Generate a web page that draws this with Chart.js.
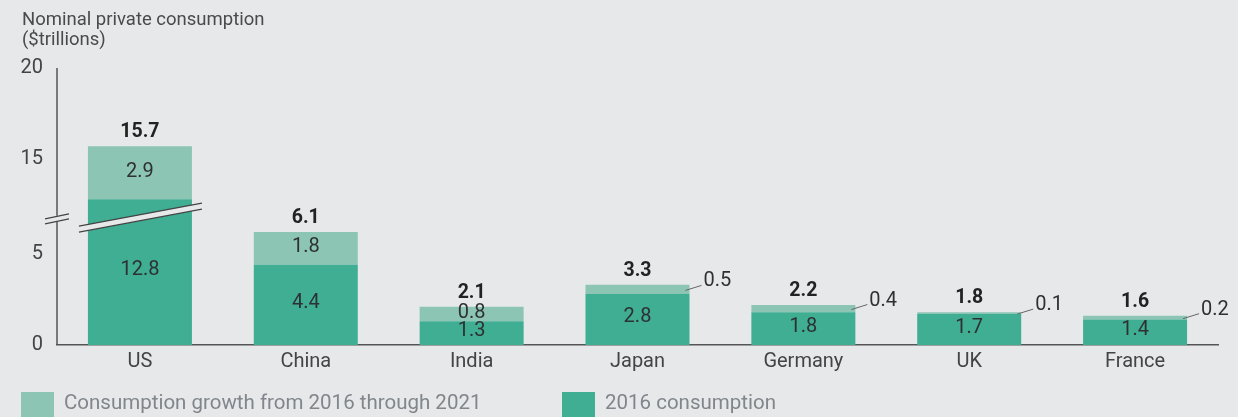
<!DOCTYPE html>
<html>
<head>
<meta charset="utf-8">
<script src="https://cdn.jsdelivr.net/npm/chart.js@4/dist/chart.umd.min.js"></script>
<style>
  html, body { margin: 0; padding: 0; background: #e7e8ea; }
  #wrap { width: 1238px; height: 417px; }
</style>
</head>
<body>
<div id="wrap"><canvas id="c" width="1238" height="417"></canvas></div>
<script>
// ---- data ----
const CATEGORIES = ['US', 'China', 'India', 'Japan', 'Germany', 'UK', 'France'];
const CONSUMPTION_2016 = [12.8, 4.4, 1.3, 2.8, 1.8, 1.7, 1.4];
const GROWTH_2016_2021 = [2.9, 1.8, 0.8, 0.5, 0.4, 0.1, 0.2];
const TOTAL_2021 = [15.7, 6.1, 2.1, 3.3, 2.2, 1.8, 1.6];
const Y_TICKS = [0, 5, 15, 20];
const AXIS_BREAK = [7.2, 12];   // values between these are collapsed on the axis
const SERIES_NAMES = ['2016 consumption', 'Consumption growth from 2016 through 2021'];
const TITLE_LINES = ['Nominal private consumption', '($trillions)'];

// ---- style ----
const BG = '#e7e8ea';
const DARK = '#3fae93';
const LIGHT = '#8dc5b4';
const FONT = 'Roboto';

// ---- broken linear scale ----
class BrokenLinearScale extends Chart.LinearScale {
  _t(v) {
    const a = AXIS_BREAK[0], b = AXIS_BREAK[1];
    return v <= a ? v : (v >= b ? v - (b - a) : a);
  }
  getPixelForValue(v) {
    if (v === null || v === undefined || isNaN(v)) return NaN;
    const t0 = this._t(this.min), t1 = this._t(this.max);
    return this.getPixelForDecimal((this._t(v) - t0) / (t1 - t0));
  }
  getValueForPixel(p) {
    const t0 = this._t(this.min), t1 = this._t(this.max);
    const t = t0 + this.getDecimalForPixel(p) * (t1 - t0);
    const a = AXIS_BREAK[0], b = AXIS_BREAK[1];
    return t <= a ? t : t + (b - a);
  }
}
BrokenLinearScale.id = 'brokenLinear';
BrokenLinearScale.defaults = Chart.LinearScale.defaults;
Chart.register(BrokenLinearScale);

const decor = {
  id: 'decor',
  beforeDraw(chart) {
    const ctx = chart.ctx;
    ctx.save();
    ctx.fillStyle = BG;
    ctx.fillRect(0, 0, chart.width, chart.height);
    ctx.restore();
  },
  afterDatasetsDraw(chart) {
    const ctx = chart.ctx;
    const ys = chart.scales.y;
    const m0 = chart.getDatasetMeta(0).data;
    const m1 = chart.getDatasetMeta(1).data;
    const yb = ys.getPixelForValue(AXIS_BREAK[0]);
    ctx.save();

    // bar breaks
    CATEGORIES.forEach((c, i) => {
      if (CONSUMPTION_2016[i] <= AXIS_BREAK[0]) return;
      const b = m0[i];
      const l = b.x - b.width / 2 - 9, r = b.x + b.width / 2 + 10;
      const yc = xx => yb + 4 - (xx - b.x) * 0.187;
      ctx.fillStyle = BG;
      ctx.beginPath();
      ctx.moveTo(l, yc(l) - 3); ctx.lineTo(r, yc(r) - 3);
      ctx.lineTo(r, yc(r) + 3); ctx.lineTo(l, yc(l) + 3);
      ctx.closePath(); ctx.fill();
      ctx.strokeStyle = '#444'; ctx.lineWidth = 1.2;
      ctx.beginPath();
      ctx.moveTo(l, yc(l) - 3); ctx.lineTo(r, yc(r) - 3);
      ctx.moveTo(l, yc(l) + 3); ctx.lineTo(r, yc(r) + 3);
      ctx.stroke();
    });

    // value labels
    ctx.textAlign = 'center';
    ctx.textBaseline = 'middle';
    CATEGORIES.forEach((c, i) => {
      const b0 = m0[i], b1 = m1[i];
      ctx.fillStyle = '#2e3133';
      ctx.font = `20px ${FONT}`;
      ctx.textAlign = 'center';
      ctx.fillText(CONSUMPTION_2016[i].toFixed(1), b0.x, (b0.y + b0.base) / 2 - 2);
      const h = Math.abs(b1.base - b1.y);
      const mid = (b1.y + b1.base) / 2;
      if (h >= 12) {
        ctx.fillText(GROWTH_2016_2021[i].toFixed(1), b1.x, mid - 1);
      } else {
        const right = b1.x + b1.width / 2;
        ctx.strokeStyle = '#666'; ctx.lineWidth = 1;
        ctx.beginPath();
        ctx.moveTo(right - 4, mid + 1);
        ctx.lineTo(right + 12, mid - 4);
        ctx.stroke();
        ctx.textAlign = 'left';
        ctx.fillText(GROWTH_2016_2021[i].toFixed(1), right + 14, mid - 8);
      }
      ctx.textAlign = 'center';
      ctx.font = `bold 19.5px ${FONT}`;
      ctx.fillStyle = '#222';
      ctx.fillText(TOTAL_2021[i].toFixed(1), b1.x, b1.y - 14);
    });

    // y axis line with break
    const ax = chart.chartArea.left;
    ctx.strokeStyle = '#555'; ctx.lineWidth = 1.5;
    ctx.beginPath();
    ctx.moveTo(ax, ys.top); ctx.lineTo(ax, yb + 2);
    ctx.moveTo(ax, yb + 8); ctx.lineTo(ax, ys.bottom);
    ctx.stroke();
    ctx.lineWidth = 1.2; ctx.strokeStyle = '#444';
    ctx.beginPath();
    ctx.moveTo(ax - 12, yb + 5); ctx.lineTo(ax + 12, yb);
    ctx.moveTo(ax - 12, yb + 10); ctx.lineTo(ax + 12, yb + 5);
    ctx.stroke();

    // title
    ctx.textAlign = 'left'; ctx.textBaseline = 'middle';
    ctx.fillStyle = '#4a4a4a';
    ctx.font = `18.5px ${FONT}`;
    ctx.fillText(TITLE_LINES[0], 22, 20);
    ctx.fillText(TITLE_LINES[1], 22, 40);

    // legend
    ctx.font = `20.5px ${FONT}`;
    ctx.fillStyle = LIGHT; ctx.fillRect(21, 392, 33, 30);
    ctx.fillStyle = DARK; ctx.fillRect(562, 392, 33, 30);
    ctx.fillStyle = '#80868b';
    ctx.fillText(SERIES_NAMES[1], 64, 404);
    ctx.fillText(SERIES_NAMES[0], 605, 404);
    ctx.restore();
  }
};

new Chart(document.getElementById('c'), {
  type: 'bar',
  data: {
    labels: CATEGORIES,
    datasets: [
      { label: SERIES_NAMES[0], data: CONSUMPTION_2016, backgroundColor: DARK, borderWidth: 0 },
      { label: SERIES_NAMES[1], data: GROWTH_2016_2021, backgroundColor: LIGHT, borderWidth: 0 }
    ]
  },
  options: {
    responsive: false,
    animation: false,
    devicePixelRatio: 1,
    layout: { padding: { top: 68, right: 20, left: 0, bottom: 0 } },
    datasets: { bar: { categoryPercentage: 1, barPercentage: 0.627 } },
    plugins: { legend: { display: false }, tooltip: { enabled: false } },
    scales: {
      x: {
        stacked: true,
        grid: { display: false, drawTicks: false },
        border: { display: true, color: '#555', width: 1.5 },
        ticks: { color: '#444', font: { family: FONT, size: 20 }, padding: 5 },
        afterFit: s => { s.height = 72; }
      },
      y: {
        type: 'brokenLinear',
        stacked: true,
        min: 0, max: 20,
        grid: { display: false, drawTicks: false },
        border: { display: false },
        ticks: { color: '#444', font: { family: FONT, size: 20 }, padding: 14 },
        afterBuildTicks: s => { s.ticks = Y_TICKS.map(v => ({ value: v })); },
        afterFit: s => { s.width = 57; }
      }
    }
  },
  plugins: [decor]
});
</script>
</body>
</html>
